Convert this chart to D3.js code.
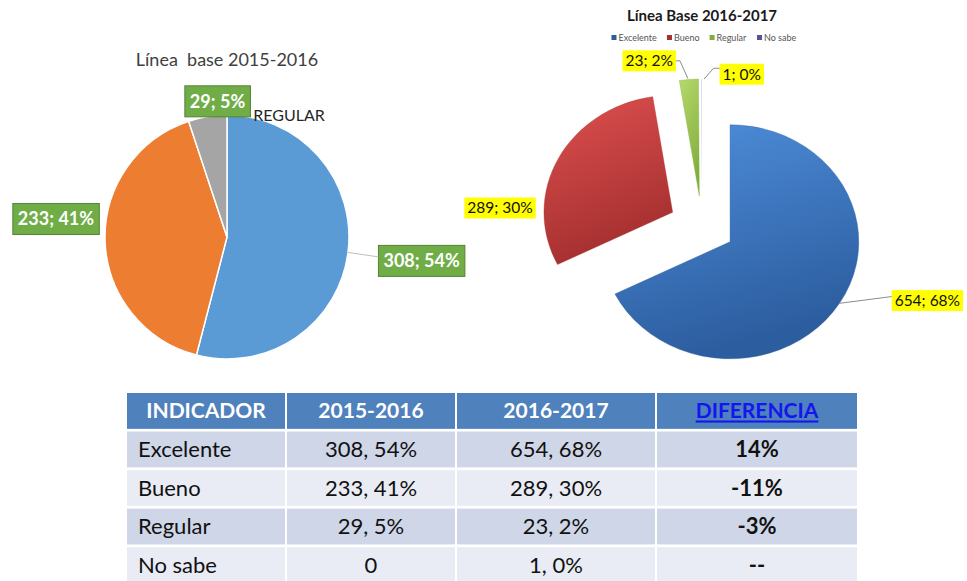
<!DOCTYPE html>
<html>
<head>
<meta charset="utf-8">
<script src="https://cdn.jsdelivr.net/npm/d3@7"></script>
<style>
  body { margin: 0; background: #fff; }
  svg { display: block; font-family: Lato, "Open Sans", sans-serif; }
</style>
</head>
<body>
<div id="chart"></div>
<script>
// data
const categories = ["Excelente", "Bueno", "Regular", "No sabe"];
const values2015 = [308, 233, 29, 0];
const pct2015 = [54, 41, 5, 0];
const values2016 = [654, 289, 23, 1];
const pct2016 = [68, 30, 2, 0];
const diffLabels = ["14%", "-11%", "-3%", "--"];
const tableHeaders = ["INDICADOR", "2015-2016", "2016-2017", "DIFERENCIA"];
const title2015 = "Línea  base 2015-2016";
const title2016 = "Línea Base 2016-2017";

function init() {
    const W = 967, H = 581;
    const svg = d3.select("#chart").append("svg")
        .attr("width", W).attr("height", H);

    const defs = svg.append("defs");
    const polar = (a, r) => [r * Math.sin(a), -r * Math.cos(a)];
    const deg = d => d * Math.PI / 180;

    // ---------- left pie (2015-2016) ----------
    const leftColors = ["#5b9bd5", "#ed7d31", "#a5a5a5", "#ffc000"];
    const lc = { x: 227, y: 237, r: 122 };
    const pieL = d3.pie().sort(null).value(d => d.v)(
        categories.map((c, i) => ({ c, v: values2015[i], p: pct2015[i], i })));
    const arcL = d3.arc().innerRadius(0).outerRadius(lc.r);

    const gL = svg.append("g").attr("transform", `translate(${lc.x},${lc.y})`);
    gL.selectAll("path").data(pieL.filter(d => d.data.v > 0)).enter()
        .append("path")
        .attr("d", arcL)
        .attr("fill", d => leftColors[d.data.i])
        .attr("stroke", "#fff").attr("stroke-width", 1.5);

    svg.append("text")
        .attr("x", lc.x).attr("y", 66)
        .attr("text-anchor", "middle")
        .style("white-space", "pre")
        .attr("font-size", 18).attr("fill", "#404040")
        .text(title2015);

    // label placement (angle in degrees, distance from centre)
    const leftLabelPos = [{ a: 97, r: 196, line: true }, { a: 276, r: 172 }, { a: 356, r: 136 }];
    pieL.filter(d => d.data.v > 0).forEach((d, k) => {
        const lp = leftLabelPos[k];
        const [px, py] = polar(deg(lp.a), lp.r);
        const g = gL.append("g").attr("transform", `translate(${px},${py})`);
        const t = g.append("text")
            .attr("text-anchor", "middle").attr("dy", "0.35em")
            .attr("font-size", 18).attr("font-weight", "bold").attr("fill", "#fff")
            .text(`${d.data.v}; ${d.data.p}%`);
        const bb = t.node().getBBox();
        g.insert("rect", "text")
            .attr("x", bb.x - 5).attr("y", -15.5)
            .attr("width", bb.width + 10).attr("height", 31)
            .attr("fill", "#70ad47").attr("stroke", "#548235").attr("stroke-width", 1);
        if (lp.line) {
            const mid = (d.startAngle + d.endAngle) / 2;
            const [x0, y0] = polar(mid, lc.r);
            gL.append("line")
                .attr("x1", x0).attr("y1", y0)
                .attr("x2", px + bb.x - 5).attr("y2", py - 4)
                .attr("stroke", "#bfbfbf").attr("stroke-width", 1);
        }
        if (d.data.c === "Regular") {
            gL.append("text")
                .attr("x", px + bb.width / 2 + 8).attr("y", py + 20)
                .attr("font-size", 16).attr("fill", "#262626")
                .text("REGULAR");
        }
    });

    // ---------- right pie (2016-2017) ----------
    const rightColors = [["#4f8fdc", "#2c5d9f"], ["#de5050", "#a52f2f"], ["#b5d96c", "#82ae3c"], ["#8a7cb8", "#5e4f8e"]];
    const rc = { x: 702, y: 226, r: 117, sx: 1.1, explode: 30 };
    rightColors.forEach((c, i) => {
        const gr = defs.append("linearGradient").attr("id", "rg" + i)
            .attr("x1", 0).attr("y1", 0).attr("x2", 0.3).attr("y2", 1);
        gr.append("stop").attr("offset", "0%").attr("stop-color", c[0]);
        gr.append("stop").attr("offset", "100%").attr("stop-color", c[1]);
    });
    const pieR = d3.pie().sort(null).value(d => d.v)(
        categories.map((c, i) => ({ c, v: values2016[i], p: pct2016[i], i })));
    const arcR = d3.arc().innerRadius(0).outerRadius(rc.r);
    const gR = svg.append("g").attr("transform", `translate(${rc.x},${rc.y}) scale(${rc.sx},1)`);
    gR.selectAll("path").data(pieR).enter()
        .append("path")
        .attr("transform", d => {
            const [ex, ey] = polar((d.startAngle + d.endAngle) / 2, rc.explode);
            return `translate(${ex},${ey})`;
        })
        .attr("d", arcR)
        .attr("fill", d => `url(#rg${d.data.i})`)
        .attr("fill-opacity", d => d.data.c === "No sabe" ? 0.35 : 1)
        .attr("stroke", d => d.data.c === "No sabe" ? "none" : rightColors[d.data.i][1])
        .attr("stroke-width", 0.6)
        .attr("stroke-opacity", 0.6);

    // screen position of a point given in the pie's local polar coords
    const rPt = (a, r) => { const [x, y] = polar(a, r); return [rc.x + x * rc.sx, rc.y + y]; };

    svg.append("text")
        .attr("x", 702).attr("y", 21)
        .attr("text-anchor", "middle")
        .attr("font-size", 15).attr("font-weight", "bold").attr("fill", "#1a1a1a")
        .text(title2016);

    // legend
    const legend = svg.append("g").attr("transform", "translate(0,38)");
    let lx = 0;
    const items = legend.selectAll("g").data(categories).enter().append("g");
    items.append("rect").attr("y", -3).attr("width", 5).attr("height", 5)
        .attr("fill", (d, i) => rightColors[i][1]);
    items.append("text").attr("x", 7).attr("dy", "0.35em")
        .attr("font-size", 9).attr("fill", "#555").text(d => d);
    items.each(function () {
        d3.select(this).attr("transform", `translate(${lx},0)`);
        lx += this.getBBox().width + 10;
    });
    legend.attr("transform", `translate(${704 - (lx - 10) / 2},38)`);

    const rightLabelPos = [
        { a: 110, r: 218, line: "edge" },
        { a: 275.6, r: 184.5 },
        { a: 343.8, r: 172, line: "right" },
        { a: 13.4, r: 156, line: "left" }
    ];
    pieR.forEach((d, k) => {
        const lp = rightLabelPos[k];
        const [px, py] = rPt(deg(lp.a), lp.r);
        const g = svg.append("g").attr("transform", `translate(${px},${py})`);
        const t = g.append("text")
            .attr("text-anchor", "middle").attr("dy", "0.35em")
            .attr("font-size", 15.5).attr("fill", "#111")
            .text(`${d.data.v}; ${d.data.p}%`);
        const bb = t.node().getBBox();
        g.insert("rect", "text")
            .attr("x", bb.x - 3).attr("y", -10.5)
            .attr("width", bb.width + 6).attr("height", 21)
            .attr("fill", "#ffff00");
        const mid = (d.startAngle + d.endAngle) / 2;
        const [ex, ey] = polar(mid, rc.explode);
        const tip = (a) => { const [x, y] = rPt(a, rc.r); return [x + ex * rc.sx, y + ey]; };
        let pts = null;
        if (lp.line === "edge") {
            const [x0, y0] = tip(mid);
            pts = [[x0, y0], [px + bb.x - 3, py - 4]];
        } else if (lp.line === "right") {
            const [x0, y0] = tip(d.startAngle + (d.endAngle - d.startAngle) * 0.4);
            pts = [[px + bb.x + bb.width + 3, py], [px + bb.x + bb.width + 7, py], [x0 + 1, y0 - 1]];
        } else if (lp.line === "left") {
            const [x0, y0] = tip(d.startAngle);
            pts = [[px + bb.x - 3, py - 6], [px + bb.x - 9, py - 6], [x0 + 3, y0]];
        }
        if (pts) {
            svg.append("path")
                .attr("d", d3.line()(pts))
                .attr("fill", "none").attr("stroke", "#8c8c8c").attr("stroke-width", 1);
        }
    });

    // ---------- table ----------
    const colEdges = [127, 286, 456, 656, 857];
    const rowKeys = ["header"].concat(categories);
    const yRow = d3.scaleBand().domain(rowKeys).range([393, 583]).paddingInner(0.07);
    const gap = 2;

    const cellText = (r, c) => {
        const i = categories.indexOf(r);
        if (c === 0) return r;
        if (c === 1) return values2015[i] ? `${values2015[i]}, ${pct2015[i]}%` : `${values2015[i]}`;
        if (c === 2) return `${values2016[i]}, ${pct2016[i]}%`;
        return diffLabels[i];
    };

    const table = svg.append("g");
    rowKeys.forEach((r, ri) => {
        for (let c = 0; c < 4; c++) {
            const x0 = colEdges[c] + (c ? gap / 2 : 0);
            const x1 = colEdges[c + 1] - (c < 3 ? gap / 2 : 0);
            const fill = ri === 0 ? "#4f81bd" : (ri % 2 ? "#cfd6e8" : "#e9ecf5");
            table.append("rect")
                .attr("x", x0).attr("y", yRow(r))
                .attr("width", x1 - x0).attr("height", yRow.bandwidth())
                .attr("fill", fill);
            const cy = yRow(r) + yRow.bandwidth() / 2;
            const t = table.append("text")
                .attr("y", cy).attr("dy", "0.36em")
                .attr("font-size", ri === 0 ? 21 : 22);
            if (ri === 0) {
                t.attr("x", (x0 + x1) / 2).attr("text-anchor", "middle")
                    .attr("font-weight", "bold")
                    .attr("fill", c === 3 ? "#1515ee" : "#fff")
                    .attr("text-decoration", c === 3 ? "underline" : null)
                    .text(tableHeaders[c]);
            } else if (c === 0) {
                t.attr("x", x0 + 11).attr("fill", "#111").text(cellText(r, c));
            } else {
                t.attr("x", (x0 + x1) / 2).attr("text-anchor", "middle")
                    .attr("fill", "#111")
                    .attr("font-weight", c === 3 ? "bold" : null)
                    .text(cellText(r, c));
            }
        }
    });
}

window.onload = init;
</script>
</body>
</html>
